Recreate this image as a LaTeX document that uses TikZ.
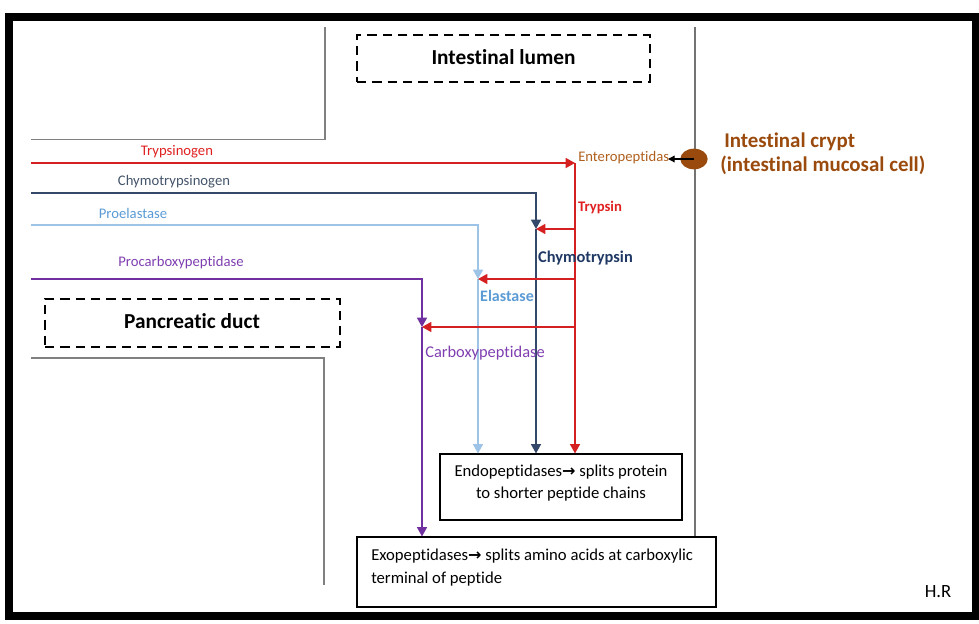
\documentclass[tikz,border=0pt]{standalone}
\usepackage{fontspec}
\setmainfont[Ligatures={TeX,NoCommon}]{Carlito}
\newfontfamily\arrowfont{DejaVu Sans}
\usetikzlibrary{arrows.meta,shapes.geometric}
\definecolor{cred}{HTML}{D42020}
\definecolor{credtxt}{HTML}{E02020}
\definecolor{cdblue}{HTML}{34496A}
\definecolor{cdbluetxt}{HTML}{44546A}
\definecolor{cdbluebold}{HTML}{1F3864}
\definecolor{clblue}{HTML}{9DC3E6}
\definecolor{clbluetxt}{HTML}{5B9BD5}
\definecolor{cpurple}{HTML}{7030A0}
\definecolor{cpurpletxt}{HTML}{7F3FB0}
\definecolor{cbrown}{HTML}{9A4A0C}
\definecolor{cbrowntxt}{HTML}{B0601E}
\definecolor{cwall}{HTML}{808080}
\tikzset{
  flow/.style={line width=1.1pt, -{Triangle[length=7pt,width=7.5pt]}},
  wall/.style={draw=cwall, line width=1.1pt},
  dashbox/.style={draw=black, line width=2.2pt, dash pattern=on 7pt off 4.5pt},
  lab/.style={inner sep=0pt, font=\fontsize{11}{13}\selectfont},
  boldlab/.style={inner sep=0pt, font=\fontsize{11}{13}\selectfont\bfseries},
  resbox/.style={draw=black, line width=0.8pt, fill=white},
}
\newcommand{\bigarrow}{{\arrowfont\bfseries\fontsize{12}{12}\selectfont →}}
\begin{document}
\begin{tikzpicture}[x=0.75pt, y=-0.75pt]
\useasboundingbox (0,0) rectangle (979,624);
% outer frame
\draw[line width=6pt] (8.5,17) rectangle (975.5,616);
% walls
\draw[wall] (325,27) -- (325,139.5) -- (31,139.5);
\draw[wall] (31,358) -- (324,358) -- (324,585);
% dashed boxes
\node[dashbox, minimum width=219.75pt, minimum height=35.25pt] (lumen) at (503.5,58.5) {};
\node[font=\fontsize{16}{18}\selectfont\bfseries, inner sep=0pt] (lumentxt) at (503.5,57) {Intestinal lumen};
\node[dashbox, minimum width=221.25pt, minimum height=36pt] (duct) at (192.5,323) {};
\node[font=\fontsize{16}{18}\selectfont\bfseries, inner sep=0pt] (ducttxt) at (192,321) {Pancreatic duct};
% result boxes
\node[resbox, minimum width=181.5pt, minimum height=49.5pt] (endo) at (561,487) {};
\node[inner sep=0pt, align=center, font=\fontsize{12.5}{16.5}\selectfont] (endotxt) at (561,483.5) {Endopeptidases\bigarrow\ splits protein\\to shorter peptide chains};
\node[resbox, minimum width=269.25pt, minimum height=52.5pt] (exo) at (536.5,572) {};
\node[inner sep=0pt, align=left, anchor=north west, font=\fontsize{12.5}{17}\selectfont] (exotxt) at (371,548.5) {Exopeptidases\bigarrow\ splits amino acids at carboxylic\\terminal of peptide};
% right wall (ends at exo box)
\coordinate (wtop) at (695,27);
\draw[wall, draw=gray!90!black] (wtop) -- (wtop |- exo.north);
% crypt cell
\node[ellipse, fill=cbrown, minimum width=20.5pt, minimum height=15.5pt, inner sep=0pt] (cell) at (694,159) {};
\node[anchor=west, inner sep=0pt, text=cbrown, font=\fontsize{15.7}{18}\selectfont\bfseries] (crypt1) at (724,142) {Intestinal crypt};
\node[anchor=west, inner sep=0pt, text=cbrown, font=\fontsize{15.7}{18}\selectfont\bfseries] (crypt2) at (720,165) {(intestinal mucosal cell)};
\node[anchor=west, inner sep=0pt, text=cbrowntxt, font=\fontsize{11}{13}\selectfont] (entero) at (578,158) {Enteropeptidas};
\coordinate (enttip) at (668,159);
\draw[line width=1pt, -{Triangle[length=5pt,width=5pt]}] (cell.center) -- (enttip);
% coordinates of pathways
\coordinate (tS) at (31,163);
\coordinate (tJ) at (575,163);
\coordinate (cS) at (31,193);
\coordinate (cJ) at (536,193);
\coordinate (cM) at (536,229);
\coordinate (eS) at (31,225);
\coordinate (eJ) at (478,225);
\coordinate (eM) at (478,279);
\coordinate (pS) at (31,279);
\coordinate (pJ) at (422,279);
\coordinate (pM) at (422,327);
\coordinate (r1) at (575,229);
\coordinate (r2) at (575,279);
\coordinate (r3) at (575,327);
% trypsinogen -> enteropeptidase, trypsin
\draw[flow, cred] (tS) -- (tJ);
\draw[flow, cred] (tJ) -- (tJ |- endo.north);
% chymotrypsinogen
\draw[flow, cdblue] (cS) -- (cJ) -- (cM);
\draw[flow, cdblue] (cM) -- (cM |- endo.north);
% proelastase
\draw[flow, clblue] (eS) -- (eJ) -- (eM);
\draw[flow, clblue] (eM) -- (eM |- endo.north);
% procarboxypeptidase
\draw[flow, cpurple] (pS) -- (pJ) -- (pM);
\draw[flow, cpurple] (pM) -- (pM |- exo.north);
% trypsin activations
\draw[flow, cred] (r1) -- (cM);
\draw[flow, cred] (r2) -- (eM);
\draw[flow, cred] (r3) -- (pM);
% labels
\node[lab, text=credtxt] (ltryg) at (177,152) {Trypsinogen};
\node[lab, text=cdbluetxt] (lchyg) at (174,182) {Chymotrypsinogen};
\node[lab, text=clbluetxt] (lproe) at (133,213) {Proelastase};
\node[lab, text=cpurpletxt] (lproc) at (181,263) {Procarboxypeptidase};
\node[boldlab, text=credtxt] (ltry) at (600,208) {Trypsin};
\node[boldlab, text=cdbluebold, font=\fontsize{12.3}{14}\selectfont\bfseries] (lchy) at (585.5,258) {Chymotrypsin};
\node[boldlab, text=clbluetxt, font=\fontsize{12}{14}\selectfont\bfseries] (lela) at (507,296) {Elastase};
\node[inner sep=0pt, text=cpurpletxt, font=\fontsize{12.3}{14}\selectfont] (lcar) at (485,353) {Carboxypeptidase};
\node[inner sep=0pt, font=\fontsize{14}{16}\selectfont] (hr) at (938,592) {H.R};
\end{tikzpicture}
\end{document}
